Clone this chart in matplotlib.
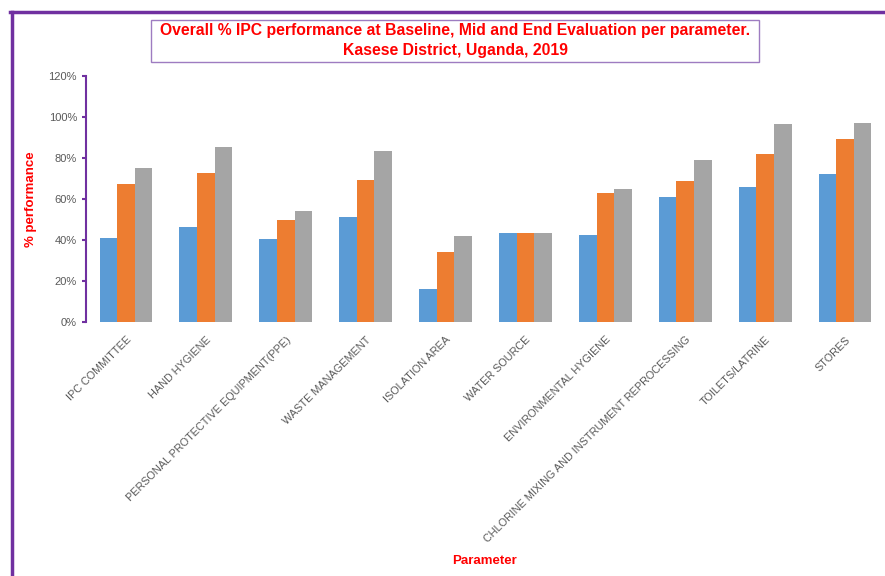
import matplotlib

matplotlib.use("Agg")
import matplotlib.pyplot as plt
import numpy as np
from matplotlib.lines import Line2D
from matplotlib.patches import Rectangle
from matplotlib.ticker import PercentFormatter

# values (% performance)
parameters = [
    "IPC COMMITTEE",
    "HAND HYGIENE",
    "PERSONAL PROTECTIVE EQUIPMENT(PPE)",
    "WASTE MANAGEMENT",
    "ISOLATION AREA",
    "WATER SOURCE",
    "ENVIRONMENTAL HYGIENE",
    "CHLORINE MIXING AND INSTRUMENT REPROCESSING",
    "TOILETS/LATRINE",
    "STORES",
]
baseline = [41, 46.5, 40.5, 51, 16, 43.5, 42.5, 61, 66, 72]
mid = [67.5, 72.5, 50, 69.5, 34, 43.5, 63, 69, 82, 89.5]
end = [75, 85.5, 54, 83.5, 42, 43.5, 65, 79, 96.5, 97]

series = [baseline, mid, end]
colors = ["#5B9BD5", "#ED7D31", "#A5A5A5"]
PURPLE = "#7030A0"
plt.rcParams["font.family"] = ["Liberation Sans", "DejaVu Sans"]

W, H = 885, 576
fig = plt.figure(figsize=(W / 100, H / 100), dpi=100)
ax = fig.add_axes([86 / W, 1 - 322 / H, 1 - 86 / W, (322 - 76) / H])

x = np.arange(len(parameters))
bw = 0.22
for i, (vals, c) in enumerate(zip(series, colors)):
    ax.bar(x + (i - 1) * bw, vals, width=bw, color=c)

ax.set_xlim(-0.5, len(parameters) - 0.5)
ax.set_ylim(0, 120)
ax.set_yticks(np.arange(0, 121, 20))
ax.yaxis.set_major_formatter(PercentFormatter(decimals=0))
for s in ["top", "right", "bottom"]:
    ax.spines[s].set_visible(False)
ax.spines["left"].set_color(PURPLE)
ax.spines["left"].set_linewidth(1.5)
ax.tick_params(axis="y", colors=PURPLE, length=3, width=1.5, labelsize=8,
               labelcolor="#595959")
ax.tick_params(axis="x", length=0, pad=9)
ax.set_xticks(x)
ax.set_xticklabels(parameters, rotation=45, ha="right", rotation_mode="anchor",
                   fontsize=7.8, color="#595959")

ax.set_ylabel("% performance", color="red", fontweight="bold", fontsize=9.5)
ax.yaxis.set_label_coords((37 - 86) / (W - 86), 0.5)
fig.text(485 / W, 1 - 561 / H, "Parameter", color="red", fontweight="bold",
         fontsize=9.5, ha="center", va="center")

# title box
fig.patches.append(Rectangle((151 / W, 1 - 62 / H), (759 - 151) / W, 42 / H,
                             transform=fig.transFigure, fill=False,
                             edgecolor="#9E7CC1", linewidth=1))
fig.text(455 / W, 1 - 31 / H,
         "Overall % IPC performance at Baseline, Mid and End Evaluation per parameter.",
         color="red", fontweight="bold", fontsize=11.3, ha="center", va="center")
fig.text(455 / W, 1 - 50 / H, "Kasese District, Uganda, 2019", color="red",
         fontweight="bold", fontsize=11.3, ha="center", va="center")

# outer purple frame (left and top edges)
fig.lines.append(Line2D([11.5 / W, 11.5 / W], [0, 1 - 12 / H], transform=fig.transFigure,
                        color=PURPLE, linewidth=2.5))
fig.lines.append(Line2D([10 / W, 1], [1 - 12 / H, 1 - 12 / H], transform=fig.transFigure,
                        color=PURPLE, linewidth=2.5))

fig.savefig("out.png", dpi=100)
